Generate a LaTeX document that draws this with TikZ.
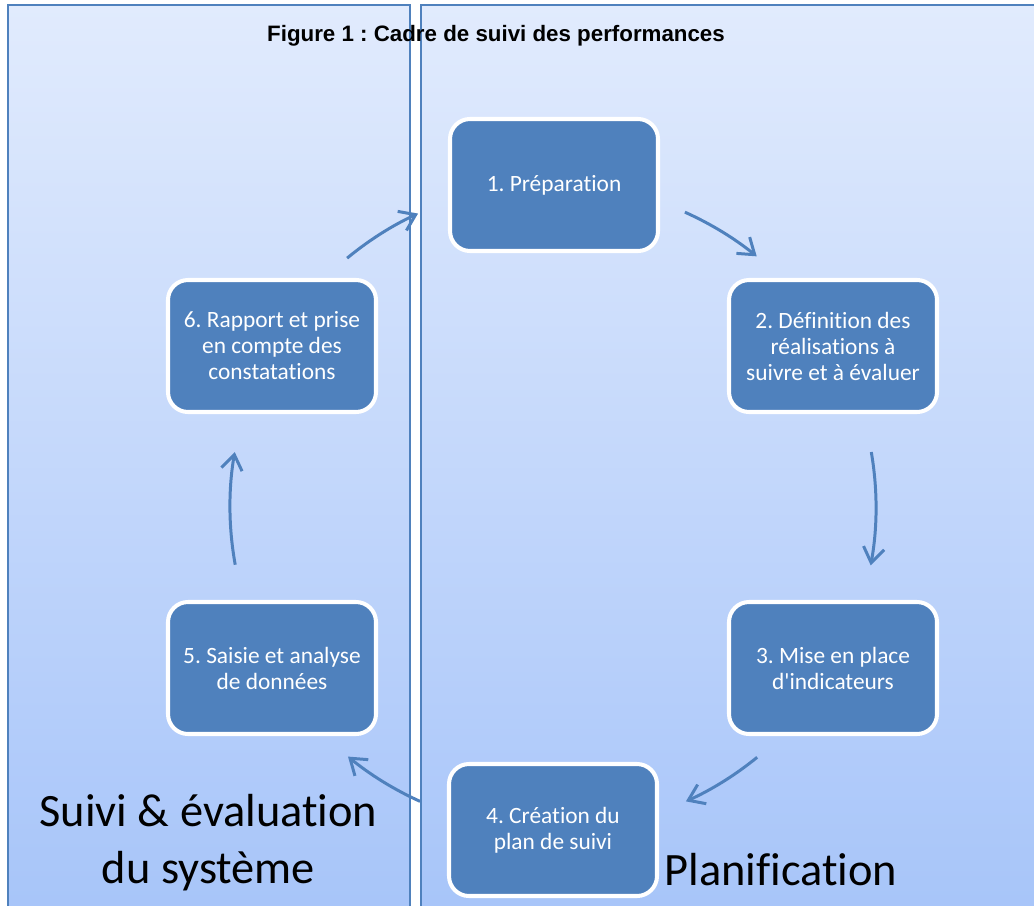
\documentclass[tikz,border=0pt]{standalone}
\usepackage{fontspec}
\setmainfont{Carlito}[Ligatures=NoCommon]
\newfontfamily\titlefont{Liberation Sans}
\usetikzlibrary{arrows.meta, positioning}
\definecolor{stepblue}{RGB}{79, 129, 189}
\definecolor{paneltop}{RGB}{225, 235, 253}
\definecolor{panelbot}{RGB}{166, 196, 249}
\frenchspacing

\tikzset{
  panel/.style={draw=stepblue, line width=1.1pt, top color=paneltop, bottom color=panelbot},
  stepbox/.style={draw=white, line width=2.3pt, fill=stepblue, rounded corners=0.4cm,
    minimum width=4.16cm, minimum height=2.64cm, inner sep=0pt, align=center,
    text=white, font=\fontsize{13.3}{14.8}\selectfont},
  cyclearrow/.style={draw=stepblue, line width=1.7pt, -{Straight Barb[length=0.3cm, width=0.42cm]}},
  phase/.style={font=\fontsize{26.4}{31.9}\selectfont, align=center, anchor=base}
}
% arc of the cycle, from angle #1 to angle #2
\newcommand{\cyclearc}[2]{\draw[cyclearrow] ([shift={(#1:6.46)}]hub) arc[start angle=#1, end angle=#2, radius=6.46cm];}

\begin{document}
\begin{tikzpicture}
\useasboundingbox (0,0) rectangle (20.68,-18.1);
\clip (0,0) rectangle (20.68,-18.1);
\fill[white] (0,0) rectangle (20.68,-18.1);

% panels
\draw[panel] (0.16,-0.10) rectangle (8.20,-18.6);
\draw[panel] (8.42,-0.10) rectangle (21.2,-18.6);

\node[anchor=base, font=\titlefont\bfseries\fontsize{12.7}{15}\selectfont] (title) at (9.92,-0.83)
  {Figure 1 : Cadre de suivi des performances};

% steps
\node[stepbox] (prep) at (11.08,-3.70) {1. Préparation};
\node[stepbox] (def) at (16.66,-6.92) {2. Définition des\\réalisations à\\suivre et à évaluer};
\node[stepbox] (ind) at (16.66,-13.36) {3. Mise en place\\d\textquotesingle indicateurs};
\node[stepbox] (plan) at (11.06,-16.60) {4. Création du\\plan de suivi};
\node[stepbox] (saisie) at (5.44,-13.36) {5. Saisie et analyse\\de données};
\node[stepbox] (rapport) at (5.44,-6.92) {6. Rapport et prise\\en compte des\\constatations};

% cycle arrows
\coordinate (hub) at (11.06,-10.14);
\cyclearc{129.6}{114.7}
\cyclearc{65.9}{50.9}
\cyclearc{9.8}{-10.4}
\cyclearc{-50.8}{-65.7}
\cyclearc{-114.3}{-129.4}
\cyclearc{190.3}{170.2}

% phase labels
\node[phase] (suivi) at (4.17,-17.66) {Suivi \& évaluation\\du système};
\node[phase] (planif) at (15.62,-17.70) {Planification};
\end{tikzpicture}
\end{document}
